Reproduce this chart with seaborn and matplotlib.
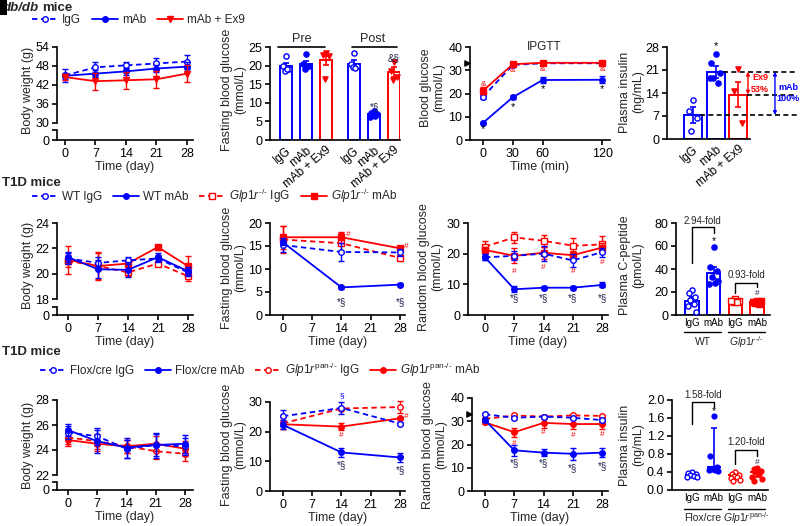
import numpy as np
import matplotlib
matplotlib.use("Agg")
import matplotlib.pyplot as plt
import matplotlib.transforms as mtransforms
from matplotlib.lines import Line2D
from matplotlib.patches import Rectangle
import seaborn as sns

# ---------------- data ----------------
days = [0, 7, 14, 21, 28]
days3 = [0, 14, 28]
ipgtt_min = [0, 30, 60, 120]

# db/db body weight (g)
dbdb_bw_igg = [45.0, 47.6, 48.2, 48.8, 49.4]
dbdb_bw_igg_err = [2.0, 1.8, 1.2, 1.8, 2.2]
dbdb_bw_mab = [44.9, 45.6, 46.3, 47.2, 47.8]
dbdb_bw_mab_err = [1.0, 1.0, 1.0, 1.2, 1.4]
dbdb_bw_ex9 = [44.5, 43.2, 43.5, 43.8, 45.6]
dbdb_bw_ex9_err = [1.0, 2.7, 2.7, 2.6, 2.8]

# db/db fasting glucose (mmol/L), pre / post
fbg_labels = ["IgG", "mAb", "mAb + Ex9", "IgG", "mAb", "mAb + Ex9"]
fbg_means = [19.8, 20.5, 21.4, 20.5, 6.9, 18.2]
fbg_sem = [1.0, 0.8, 1.2, 1.0, 0.4, 1.3]
fbg_points = [
    [22.5, 20.0, 19.0, 18.5, 19.0],
    [23.2, 20.4, 19.8, 19.1, 20.0],
    [23.5, 22.9, 22.5, 16.5],
    [23.3, 20.5, 19.8, 19.5, 19.4],
    [7.8, 7.3, 7.0, 6.8, 6.5, 6.1],
    [21.0, 18.5, 17.0, 16.2],
]

# db/db IPGTT (mmol/L)
ipgtt_igg = [18.6, 32.3, 33.0, 33.0]
ipgtt_igg_err = [0.8, 0.5, 0.5, 0.5]
ipgtt_mab = [7.4, 18.4, 25.8, 25.9]
ipgtt_mab_err = [0.5, 0.8, 1.4, 1.5]
ipgtt_ex9 = [21.2, 32.6, 33.2, 33.2]
ipgtt_ex9_err = [1.5, 0.5, 0.5, 0.5]

# db/db plasma insulin (ng/mL)
ins_labels = ["IgG", "mAb", "mAb + Ex9"]
ins_means = [7.3, 20.5, 13.5]
ins_sem = [2.4, 1.8, 3.9]
ins_points = [
    [11.8, 8.6, 6.5, 2.5],
    [26.0, 23.0, 20.0, 18.5, 17.0, 18.5],
    [21.2, 14.5, 4.8],
]

# T1D WT vs Glp1r-/- body weight (g)
wt_bw_igg = [21.2, 20.85, 21.05, 21.2, 20.1]
wt_bw_igg_err = [0.4, 0.5, 0.3, 0.3, 0.3]
wt_bw_mab = [21.3, 20.35, 20.3, 21.3, 20.2]
wt_bw_mab_err = [0.4, 0.7, 0.6, 0.3, 0.3]
ko_bw_igg = [21.0, 20.6, 20.1, 20.8, 19.8]
ko_bw_igg_err = [0.5, 1.0, 0.3, 0.2, 0.4]
ko_bw_mab = [21.1, 20.6, 20.8, 22.1, 20.6]
ko_bw_mab_err = [1.1, 1.1, 0.3, 0.2, 0.8]

# T1D WT vs Glp1r-/- fasting glucose (mmol/L)
wt_fbg_igg = [15.2, 13.7, 13.6]
wt_fbg_igg_err = [1.5, 2.0, 0.8]
wt_fbg_mab = [15.8, 6.0, 6.6]
wt_fbg_mab_err = [0.6, 0.3, 0.3]
ko_fbg_igg = [16.4, 15.6, 12.4]
ko_fbg_igg_err = [3.0, 2.2, 0.5]
ko_fbg_mab = [16.9, 16.9, 14.5]
ko_fbg_mab_err = [2.5, 1.2, 0.3]

# T1D WT vs Glp1r-/- random glucose (mmol/L)
wt_rbg_igg = [18.8, 19.3, 20.0, 17.8, 20.5]
wt_rbg_igg_err = [1.0, 1.5, 2.5, 2.0, 1.5]
wt_rbg_mab = [18.8, 8.4, 8.9, 8.9, 9.8]
wt_rbg_mab_err = [1.0, 1.0, 0.5, 0.5, 0.8]
ko_rbg_igg = [22.3, 25.3, 24.2, 22.6, 23.0]
ko_rbg_igg_err = [1.8, 1.8, 2.0, 2.5, 2.8]
ko_rbg_mab = [21.2, 19.3, 20.3, 19.5, 22.0]
ko_rbg_mab_err = [1.0, 2.5, 2.0, 1.5, 1.5]

# T1D plasma C-peptide (pmol/L)
cpep_labels = ["IgG", "mAb", "IgG", "mAb"]
cpep_means = [12.5, 36.5, 12.2, 11.4]
cpep_sem = [2.8, 5.0, 1.0, 0.8]
cpep_points = [
    [22.0, 19.0, 16.0, 13.0, 10.0, 8.0, 3.0],
    [59.0, 42.0, 38.0, 33.0, 28.0, 27.0, 30.0],
    [13.5, 12.5, 12.0, 11.5, 11.0, 12.0],
    [12.5, 11.5, 11.0, 10.5, 10.0, 11.0, 12.0],
]

# T1D Flox/cre vs Glp1r pan-/- body weight (g)
fl_bw_igg = [25.4, 25.1, 24.1, 24.4, 24.3]
fl_bw_igg_err = [0.5, 0.7, 0.7, 0.9, 0.7]
fl_bw_mab = [25.6, 24.7, 24.2, 24.4, 24.5]
fl_bw_mab_err = [0.5, 0.9, 0.8, 1.0, 0.7]
pan_bw_igg = [25.0, 24.7, 24.3, 23.9, 23.7]
pan_bw_igg_err = [0.5, 0.6, 0.5, 0.6, 0.6]
pan_bw_mab = [24.8, 24.5, 24.3, 24.5, 24.1]
pan_bw_mab_err = [0.5, 0.6, 0.5, 0.6, 0.6]

# T1D Flox/cre vs Glp1r pan-/- fasting glucose (mmol/L)
fl_fbg_igg = [25.2, 28.0, 22.7]
fl_fbg_igg_err = [2.0, 2.0, 0.5]
fl_fbg_mab = [22.3, 13.0, 11.3]
fl_fbg_mab_err = [1.5, 1.5, 1.5]
pan_fbg_igg = [22.8, 27.8, 28.3]
pan_fbg_igg_err = [2.0, 0.5, 2.0]
pan_fbg_mab = [22.5, 21.7, 24.5]
pan_fbg_mab_err = [1.5, 1.2, 0.5]

# T1D Flox/cre vs Glp1r pan-/- random glucose (mmol/L)
fl_rbg_igg = [33.0, 31.5, 32.0, 31.5, 30.5]
fl_rbg_igg_err = [0.5, 0.5, 0.5, 0.5, 0.8]
fl_rbg_mab = [30.5, 17.5, 16.5, 16.0, 16.5]
fl_rbg_mab_err = [1.0, 2.5, 1.5, 2.5, 2.0]
pan_rbg_igg = [31.0, 32.5, 32.0, 32.5, 32.3]
pan_rbg_igg_err = [0.5, 0.5, 0.5, 0.5, 0.5]
pan_rbg_mab = [29.5, 25.3, 29.3, 28.8, 28.8]
pan_rbg_mab_err = [0.5, 2.0, 2.0, 2.0, 2.0]

# T1D plasma insulin (ng/mL), median with range bars
pins_labels = ["IgG", "mAb", "IgG", "mAb"]
pins_median = [0.34, 0.52, 0.33, 0.40]
pins_low = [0.31, 0.44, 0.26, 0.28]
pins_high = [0.38, 1.38, 0.36, 0.48]
pins_points = [
    [0.40, 0.38, 0.35, 0.33, 0.32, 0.30, 0.28],
    [1.65, 0.76, 0.52, 0.46, 0.44, 0.44, 0.43],
    [0.40, 0.36, 0.34, 0.32, 0.30, 0.26, 0.22, 0.20],
    [0.50, 0.46, 0.42, 0.40, 0.36, 0.30, 0.25, 0.20],
]

# ---------------- style ----------------
BLUE = "#0000ff"
RED = "#ff0000"
STAR = "#1c1c48"
DASH = (0, (3, 2))
W, H = 800, 526

sns.set_style("ticks")
plt.rcParams["font.family"] = ["Liberation Sans", "DejaVu Sans"]
plt.rcParams["mathtext.fontset"] = "custom"
plt.rcParams["mathtext.rm"] = "Liberation Sans"
plt.rcParams["mathtext.it"] = "Liberation Sans:italic"
plt.rcParams["font.size"] = 9
plt.rcParams["axes.linewidth"] = 1.2
plt.rcParams["axes.edgecolor"] = "black"
for a in ("xtick", "ytick"):
    plt.rcParams[a + ".major.width"] = 1.2
    plt.rcParams[a + ".major.size"] = 3.5
    plt.rcParams[a + ".labelsize"] = 9
    plt.rcParams[a + ".color"] = "black"
    plt.rcParams[a + ".major.pad"] = 2

fig = plt.figure(figsize=(8, 5.26), dpi=100)


def add_ax(x0, y0, x1, y1):
    # pixel box -> figure fractions
    ax = fig.add_axes([x0 / W, 1 - y1 / H, (x1 - x0) / W, (y1 - y0) / H])
    ax.set_facecolor("none")
    sns.despine(ax=ax)
    return ax


def ftext(x, y, s, **kw):
    fig.text(x / W, 1 - y / H, s, **kw)


def series(ax, x, y, err, color, dashed, marker, filled, z=3):
    cont = ax.errorbar(x, y, yerr=err, fmt="none", ecolor=color, elinewidth=1.0,
                       capsize=2, capthick=1.0, zorder=z)
    for c in cont.get_children():
        c.set_clip_on(False)
    sns.lineplot(x=x, y=y, ax=ax, color=color, linestyle=DASH if dashed else "-",
                 marker=marker, markersize=4, markerfacecolor=color if filled else "white",
                 markeredgecolor=color, markeredgewidth=1.0, linewidth=1.3,
                 errorbar=None, legend=False, zorder=z, clip_on=False)


def spread(n, w):
    base = np.array([0.0, -0.6, 0.6, -0.3, 0.3, -0.8, 0.8, -0.45, 0.45])
    return base[:n] * w / 2


def dots(ax, pos, vals, color, marker, filled, w, s=14):
    sns.scatterplot(x=pos + spread(len(vals), w), y=vals, ax=ax, marker=marker, s=s,
                    color=color if filled else "white", edgecolor=color, linewidth=1.0,
                    zorder=4, legend=False, clip_on=False)


def bars(ax, pos, means, sems, points, colors, markers, filled, width):
    for i in range(len(means)):
        ax.bar(pos[i], means[i], width=width, facecolor="white", edgecolor=colors[i],
               linewidth=1.4, zorder=1)
        ax.errorbar(pos[i], means[i], yerr=sems[i], fmt="none", ecolor=colors[i],
                    elinewidth=1.2, capsize=2.5, capthick=1.2, zorder=3)
        dots(ax, pos[i], points[i], colors[i], markers[i], filled[i], width * 0.8)


def broken(x0, x1, yt, yb, lt, lb, xlim, ylim, yticks):
    up = add_ax(x0, yt, x1, yb)
    low = add_ax(x0, lt, x1, lb)
    up.spines["bottom"].set_visible(False)
    up.set_xticks([])
    up.set_xlim(*xlim)
    up.set_ylim(*ylim)
    up.set_yticks(yticks)
    low.set_xlim(*xlim)
    low.set_ylim(0, 1)
    low.set_yticks([0, 1])
    low.set_yticklabels(["0", ""])
    low.set_xticks(days)
    low.set_xlabel("Time (day)", labelpad=1)
    return up, low


def note(ax, x, y, s, color=STAR, size=7):
    ax.text(x, y, s, color=color, fontsize=size, ha="center", va="center", zorder=6)


def ylab(x, y, s):
    ftext(x, y, s, rotation=90, ha="center", va="center", fontsize=9,
          multialignment="center", linespacing=1.15)


def legend_row(handles, labels, x, y):
    fig.legend(handles, labels, loc="center left", bbox_to_anchor=(x / W, 1 - y / H),
               ncol=len(handles), frameon=False, fontsize=8.5, handlelength=2.2,
               handletextpad=0.35, columnspacing=0.9, borderaxespad=0, borderpad=0)


def handle(color, dashed, marker, filled):
    return Line2D([0], [0], color=color, ls=DASH if dashed else "-", lw=1.3, marker=marker,
                  ms=4, mfc=color if filled else "white", mec=color, mew=1.0)


def arrowhead(ax, yv):
    tr = mtransforms.blended_transform_factory(ax.transAxes, ax.transData)
    ax.scatter([-0.02], [yv], transform=tr, marker=">", s=14, color="black",
               clip_on=False, zorder=6)


GLP = r"$\mathit{Glp1r}^{\text{-/-}}$"
PAN = r"$\mathit{Glp1r}^{\text{pan-/-}}$"

# ---------------- row 1: db/db ----------------
fig.patches.append(Rectangle((0, 1 - 15 / H), 7 / W, 15 / H, transform=fig.transFigure,
                             facecolor="black", edgecolor="none", zorder=5))
ftext(3, 8, "db/db", fontsize=9.5, weight="bold", style="italic", va="center")
ftext(42, 8, "mice", fontsize=9.5, weight="bold", va="center")
legend_row([handle(BLUE, True, "o", False), handle(BLUE, False, "o", True),
            handle(RED, False, "v", True)], ["IgG", "mAb", "mAb + Ex9"], 32, 20)

# body weight
up, low = broken(57, 193, 47, 123, 130, 140, (-1.84, 29.4), (30, 54), [30, 36, 42, 48, 54])
series(up, days, dbdb_bw_igg, dbdb_bw_igg_err, BLUE, True, "o", False)
series(up, days, dbdb_bw_mab, dbdb_bw_mab_err, BLUE, False, "o", True)
series(up, days, dbdb_bw_ex9, dbdb_bw_ex9_err, RED, False, "v", True)
ylab(28, 90, "Body weight (g)")

# fasting glucose bars
ax = add_ax(270, 47, 400, 140)
pos2 = np.array([0, 1, 2, 3.4, 4.4, 5.4])
bars(ax, pos2, fbg_means, fbg_sem, fbg_points, [BLUE, BLUE, RED] * 2,
     ["o", "o", "v"] * 2, [False, True, True] * 2, 0.62)
ax.set_xlim(-0.8, 5.7)
ax.set_ylim(0, 25)
ax.set_yticks([0, 5, 10, 15, 20, 25])
ax.set_xticks(pos2)
ax.set_xticklabels(fbg_labels, rotation=40, ha="right", rotation_mode="anchor", fontsize=8.5)
ax.tick_params(axis="x", length=0, pad=3)
ax.plot([-0.4, 1.95], [25, 25], color="black", lw=1.2, clip_on=False)
ax.plot([3.3, 5.55], [25, 25], color="black", lw=1.2, clip_on=False)
ax.text(0.8, 25.6, "Pre", ha="center", va="bottom", fontsize=9)
ax.text(4.35, 25.6, "Post", ha="center", va="bottom", fontsize=9)
note(ax, 4.4, 8.7, "*§")
note(ax, 5.4, 22.0, "&§")
ylab(234, 90, "Fasting blood glucose\n(mmol/L)")

# IPGTT
ax = add_ax(470, 47, 610, 140)
series(ax, ipgtt_min, ipgtt_igg, ipgtt_igg_err, BLUE, True, "o", False)
series(ax, ipgtt_min, ipgtt_mab, ipgtt_mab_err, BLUE, False, "o", True)
series(ax, ipgtt_min, ipgtt_ex9, ipgtt_ex9_err, RED, False, "s", True)
ax.set_xlim(-13.2, 128)
ax.set_ylim(0, 40)
ax.set_yticks([0, 10, 20, 30, 40])
ax.set_xticks(ipgtt_min)
ax.set_xlabel("Time (min)", labelpad=1)
ax.text(62, 40, "IPGTT", ha="center", va="center", fontsize=8.5)
arrowhead(ax, 33.3)
for xv, yv in zip(ipgtt_min, [4.8, 14.0, 22.0, 22.0]):
    note(ax, xv, yv, "*", color="black", size=8)
for xv, yv in zip(ipgtt_min, [24.0, 29.8, 30.2, 30.2]):
    note(ax, xv, yv, "&", color=RED, size=6)
ylab(433, 88, "Blood glucose\n(mmol/L)")

# plasma insulin bars
ax = add_ax(667, 47, 750, 139)
pos4 = np.array([0, 1, 2])
bars(ax, pos4, ins_means, ins_sem, ins_points, [BLUE, BLUE, RED], ["o", "o", "v"],
     [False, True, True], 0.8)
ax.set_xlim(-1.16, 2.53)
ax.set_ylim(0, 28)
ax.set_yticks([0, 7, 14, 21, 28])
ax.set_xticks(pos4)
ax.set_xticklabels(ins_labels, rotation=40, ha="right", rotation_mode="anchor", fontsize=8.5)
ax.tick_params(axis="x", length=0, pad=3)
note(ax, 1, 28.3, "*", color="black", size=8)
for x0, yv in [(1.35, ins_means[1]), (2.4, ins_means[2]), (0.3, ins_means[0])]:
    ax.plot([x0, 4.62], [yv, yv], color="black", lw=1.2, ls=(0, (3, 2)), clip_on=False)
ax.annotate("", xy=(2.44, ins_means[2]), xytext=(2.44, ins_means[1]), annotation_clip=False,
            arrowprops=dict(arrowstyle="<|-|>", color=RED, lw=1.0, mutation_scale=5,
                            shrinkA=0, shrinkB=0))
ax.annotate("", xy=(3.64, ins_means[0]), xytext=(3.64, ins_means[1]), annotation_clip=False,
            arrowprops=dict(arrowstyle="<|-|>", color=BLUE, lw=1.0, mutation_scale=5,
                            shrinkA=0, shrinkB=0))
ax.text(2.98, 16.9, "Ex9\n53%", color=RED, fontsize=6.5, weight="bold", ha="center",
        va="center", linespacing=1.3)
ax.text(4.22, 14.1, "mAb\n100%", color=BLUE, fontsize=6.5, weight="bold", ha="center",
        va="center", linespacing=1.3)
ylab(632, 92, "Plasma insulin\n(ng/mL)")

# ---------------- row 2: T1D WT vs Glp1r-/- ----------------
ftext(2, 183, "T1D mice", fontsize=9.5, weight="bold", va="center")
legend_row([handle(BLUE, True, "o", False), handle(BLUE, False, "o", True),
            handle(RED, True, "s", False), handle(RED, False, "s", True)],
           ["WT IgG", "WT mAb", GLP + " IgG", GLP + " mAb"], 32, 196)

up, low = broken(57, 193, 223, 299, 307, 315, (-2.57, 29.2), (18, 24), [18, 20, 22, 24])
series(up, days, ko_bw_igg, ko_bw_igg_err, RED, True, "s", False)
series(up, days, ko_bw_mab, ko_bw_mab_err, RED, False, "s", True)
series(up, days, wt_bw_igg, wt_bw_igg_err, BLUE, True, "o", False)
series(up, days, wt_bw_mab, wt_bw_mab_err, BLUE, False, "o", True)
ylab(28, 265, "Body weight (g)")

ax = add_ax(270, 223, 405, 315)
series(ax, days3, ko_fbg_igg, ko_fbg_igg_err, RED, True, "s", False)
series(ax, days3, ko_fbg_mab, ko_fbg_mab_err, RED, False, "s", True)
series(ax, days3, wt_fbg_igg, wt_fbg_igg_err, BLUE, True, "o", False)
series(ax, days3, wt_fbg_mab, wt_fbg_mab_err, BLUE, False, "o", True)
ax.set_xlim(-3.1, 29.2)
ax.set_ylim(0, 20)
ax.set_yticks([0, 5, 10, 15, 20])
ax.set_xticks(days)
ax.set_xlabel("Time (day)", labelpad=1)
note(ax, 14, 2.9, "*§")
note(ax, 28, 2.9, "*§")
note(ax, 15.6, 17.6, "#", color=RED, size=6)
note(ax, 29.6, 14.8, "#", color=RED, size=6)
ylab(234, 268, "Fasting blood glucose\n(mmol/L)")

ax = add_ax(468, 223, 608, 315)
series(ax, days, ko_rbg_igg, ko_rbg_igg_err, RED, True, "s", False)
series(ax, days, ko_rbg_mab, ko_rbg_mab_err, RED, False, "s", True)
series(ax, days, wt_rbg_igg, wt_rbg_igg_err, BLUE, True, "o", False)
series(ax, days, wt_rbg_mab, wt_rbg_mab_err, BLUE, False, "o", True)
ax.set_xlim(-4.07, 29.4)
ax.set_ylim(0, 30)
ax.set_yticks([0, 10, 20, 30])
ax.set_xticks(days)
ax.set_xlabel("Time (day)", labelpad=1)
for xv in days[1:]:
    note(ax, xv, 5.5, "*§")
for xv, yv in zip(days[1:], [14.2, 15.6, 14.2, 17.2]):
    note(ax, xv, yv, "#", color=RED, size=6)
ylab(431, 267, "Random blood glucose\n(mmol/L)")

ax = add_ax(676, 223, 770, 315)
pos8 = np.array([0, 1, 2, 3])
bars(ax, pos8, cpep_means, cpep_sem, cpep_points, [BLUE, BLUE, RED, RED],
     ["o", "o", "s", "s"], [False, True, False, True], 0.62)
ax.set_xlim(-0.74, 3.6)
ax.set_ylim(0, 80)
ax.set_yticks([0, 20, 40, 60, 80])
ax.set_xticks(pos8)
ax.set_xticklabels(cpep_labels, fontsize=7)
ax.tick_params(axis="x", length=0, pad=2)
ax.plot([0, 0, 1, 1], [45, 76.5, 76.5, 71], color="black", lw=1.0, clip_on=False)
ax.text(0.5, 82, "2.94-fold", ha="center", va="center", fontsize=7)
note(ax, 1, 64.5, "*", color="black", size=7.5)
ax.plot([2, 2, 3, 3], [19, 28.2, 28.2, 24.7], color="black", lw=1.0, clip_on=False)
ax.text(2.5, 34.5, "0.93-fold", ha="center", va="center", fontsize=7)
note(ax, 3, 19, "#", color=STAR, size=6)
tr = mtransforms.blended_transform_factory(ax.transData, ax.transAxes)
ax.plot([-0.35, 1.35], [-0.185, -0.185], color="black", lw=1.0, transform=tr, clip_on=False)
ax.plot([1.65, 3.35], [-0.185, -0.185], color="black", lw=1.0, transform=tr, clip_on=False)
ax.text(0.5, -0.29, "WT", transform=tr, ha="center", va="center", fontsize=7.5)
ax.text(2.5, -0.29, GLP, transform=tr, ha="center", va="center", fontsize=7.5)
ylab(632, 265, "Plasma C-peptide\n(pmol/L)")

# ---------------- row 3: T1D Flox/cre vs Glp1r pan-/- ----------------
ftext(2, 352, "T1D mice", fontsize=9.5, weight="bold", va="center")
legend_row([handle(BLUE, True, "o", False), handle(BLUE, False, "o", True),
            handle(RED, True, "o", False), handle(RED, False, "o", True)],
           ["Flox/cre IgG", "Flox/cre mAb", PAN + " IgG", PAN + " mAb"], 40, 370)

up, low = broken(57, 193, 400, 475, 482, 490, (-2.63, 29.9), (22, 28), [22, 24, 26, 28])
series(up, days, pan_bw_igg, pan_bw_igg_err, RED, True, "o", False)
series(up, days, pan_bw_mab, pan_bw_mab_err, RED, False, "o", True)
series(up, days, fl_bw_igg, fl_bw_igg_err, BLUE, True, "o", False)
series(up, days, fl_bw_mab, fl_bw_mab_err, BLUE, False, "o", True)
ylab(28, 445, "Body weight (g)")

ax = add_ax(270, 402, 405, 491)
series(ax, days3, pan_fbg_igg, pan_fbg_igg_err, RED, True, "o", False)
series(ax, days3, pan_fbg_mab, pan_fbg_mab_err, RED, False, "o", True)
series(ax, days3, fl_fbg_igg, fl_fbg_igg_err, BLUE, True, "o", False)
series(ax, days3, fl_fbg_mab, fl_fbg_mab_err, BLUE, False, "o", True)
ax.set_xlim(-3.1, 29.2)
ax.set_ylim(0, 30)
ax.set_yticks([0, 10, 20, 30])
ax.set_xticks(days)
ax.set_xlabel("Time (day)", labelpad=1)
note(ax, 14, 32, "§", color=BLUE, size=6)
note(ax, 14, 8.7, "*§")
note(ax, 28, 7.0, "*§")
note(ax, 14, 18.8, "#", color=RED, size=6)
note(ax, 29.6, 25, "#", color=RED, size=6)
ylab(234, 445, "Fasting blood glucose\n(mmol/L)")

ax = add_ax(472, 398, 608, 491)
series(ax, days, pan_rbg_igg, pan_rbg_igg_err, RED, True, "o", False)
series(ax, days, pan_rbg_mab, pan_rbg_mab_err, RED, False, "o", True)
series(ax, days, fl_rbg_igg, fl_rbg_igg_err, BLUE, True, "o", False)
series(ax, days, fl_rbg_mab, fl_rbg_mab_err, BLUE, False, "o", True)
ax.set_xlim(-3.1, 29.4)
ax.set_ylim(0, 40)
ax.set_yticks([0, 10, 20, 30, 40])
ax.set_xticks(days)
ax.set_xlabel("Time (day)", labelpad=1)
arrowhead(ax, 33.1)
for xv, yv in zip(days[1:], [11.8, 11.8, 10.0, 10.8]):
    note(ax, xv, yv, "*§")
for xv, yv in zip(days[1:], [20.5, 25.3, 24.0, 24.4]):
    note(ax, xv, yv, "#", color=RED, size=6)
ylab(435, 445, "Random blood glucose\n(mmol/L)")

ax = add_ax(672, 400, 768, 490)
pos12 = np.array([0, 1, 2, 3])
cols12 = [BLUE, BLUE, RED, RED]
fill12 = [False, True, False, True]
for i in range(4):
    ax.hlines(pins_median[i], pos12[i] - 0.32, pos12[i] + 0.32, color=cols12[i], lw=1.5, zorder=3)
    ax.errorbar(pos12[i], pins_median[i],
                yerr=[[pins_median[i] - pins_low[i]], [pins_high[i] - pins_median[i]]],
                fmt="none", ecolor=cols12[i], elinewidth=1.2, capsize=2.5, capthick=1.2, zorder=3)
    dots(ax, pos12[i], pins_points[i], cols12[i], "o", fill12[i], 0.55, s=12)
ax.set_xlim(-0.92, 3.5)
ax.set_ylim(0, 2.0)
ax.set_yticks([0, 0.4, 0.8, 1.2, 1.6, 2.0])
ax.set_yticklabels(["0.0", "0.4", "0.8", "1.2", "1.6", "2.0"])
ax.set_xticks(pos12)
ax.set_xticklabels(pins_labels, fontsize=7)
ax.tick_params(axis="x", length=0, pad=2)
ax.plot([0, 0, 1, 1], [1.47, 1.96, 1.96, 1.85], color="black", lw=1.0, clip_on=False)
ax.text(0.5, 2.11, "1.58-fold", ha="center", va="center", fontsize=7)
note(ax, 1, 1.76, "*", color="black", size=7.5)
ax.plot([2, 2, 3, 3], [0.57, 0.88, 0.88, 0.75], color="black", lw=1.0, clip_on=False)
ax.text(2.5, 1.06, "1.20-fold", ha="center", va="center", fontsize=7)
note(ax, 3, 0.62, "#", color=STAR, size=6)
tr = mtransforms.blended_transform_factory(ax.transData, ax.transAxes)
ax.plot([-0.35, 1.35], [-0.21, -0.21], color="black", lw=1.0, transform=tr, clip_on=False)
ax.plot([1.65, 3.35], [-0.21, -0.21], color="black", lw=1.0, transform=tr, clip_on=False)
ax.text(0.5, -0.31, "Flox/cre", transform=tr, ha="center", va="center", fontsize=7.5)
ax.text(2.5, -0.31, PAN, transform=tr, ha="center", va="center", fontsize=7.5)
ylab(632, 445, "Plasma insulin\n(ng/mL)")

fig.savefig("out.png", dpi=100)
